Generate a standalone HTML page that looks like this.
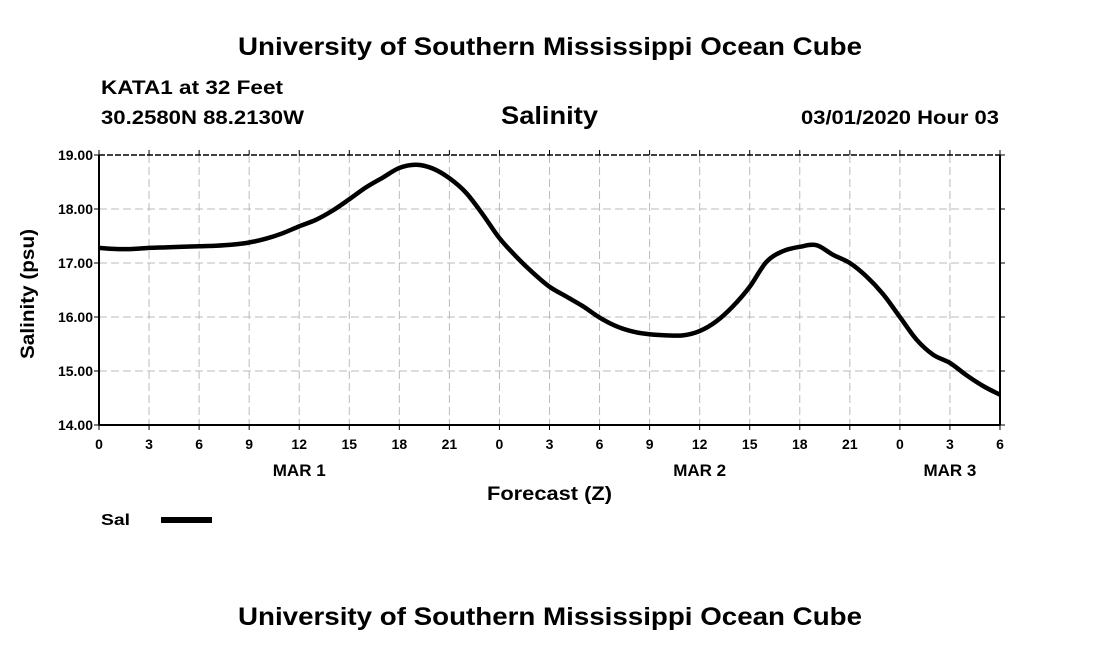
<!DOCTYPE html>
<html><head><meta charset="utf-8"><style>
body{margin:0;background:#fff;}
svg{display:block;font-family:"Liberation Sans",Arial,sans-serif;}
</style></head><body>
<svg id="chart" width="1100" height="650" viewBox="0 0 1100 650">
<text x="238" y="55" font-size="25" font-weight="bold" textLength="624" lengthAdjust="spacingAndGlyphs">University of Southern Mississippi Ocean Cube</text>
<text x="101" y="94" font-size="19" font-weight="bold" textLength="182" lengthAdjust="spacingAndGlyphs">KATA1 at 32 Feet</text>
<text x="101" y="124" font-size="19" font-weight="bold" textLength="203" lengthAdjust="spacingAndGlyphs">30.2580N 88.2130W</text>
<text x="501" y="124" font-size="25" font-weight="bold" textLength="97" lengthAdjust="spacingAndGlyphs">Salinity</text>
<text x="801" y="124" font-size="19" font-weight="bold" textLength="198" lengthAdjust="spacingAndGlyphs">03/01/2020 Hour 03</text>
<g id="grid"></g>
<g id="axes"></g>
<path id="line" fill="none" stroke="#000" stroke-width="4.5" stroke-linejoin="round"></path>
<text x="0" y="0" transform="translate(34,294) rotate(-90)" text-anchor="middle" font-size="19" font-weight="bold" textLength="130" lengthAdjust="spacingAndGlyphs">Salinity (psu)</text>
<text x="487" y="500" font-size="19" font-weight="bold" textLength="125" lengthAdjust="spacingAndGlyphs">Forecast (Z)</text>
<text x="101" y="525" font-size="16" font-weight="bold" textLength="29" lengthAdjust="spacingAndGlyphs">Sal</text>
<rect x="161" y="517" width="51" height="6" fill="#000"></rect>
<text x="238" y="625" font-size="25" font-weight="bold" textLength="624" lengthAdjust="spacingAndGlyphs">University of Southern Mississippi Ocean Cube</text>
</svg>
<script>
const hours = [0,1,2,3,4,5,6,7,8,9,10,11,12,13,14,15,16,17,18,19,20,21,22,23,24,25,26,27,28,29,30,31,32,33,34,35,36,37,38,39,40,41,42,43,44,45,46,47,48,49,50,51,52,53,54];
const salinity = [17.28,17.26,17.26,17.28,17.29,17.30,17.31,17.32,17.34,17.38,17.45,17.55,17.68,17.80,17.97,18.18,18.40,18.58,18.76,18.82,18.75,18.57,18.30,17.90,17.46,17.12,16.82,16.56,16.38,16.20,15.99,15.83,15.73,15.68,15.66,15.66,15.74,15.92,16.20,16.56,17.02,17.22,17.30,17.33,17.15,17.00,16.75,16.42,16.00,15.58,15.30,15.15,14.92,14.72,14.56];
const yTicks = [14,15,16,17,18,19];
const xTickLabels = ["0","3","6","9","12","15","18","21","0","3","6","9","12","15","18","21","0","3","6"];
const dayLabels = ["MAR 1","MAR 2","MAR 3"];
const dayHours = [12,36,51];

const X0=99,X1=1000,Y0=425,Y1=155,HMAX=54,VMIN=14,VMAX=19;
const xs=h=>X0+(X1-X0)*h/HMAX;
const ys=v=>Y0-(Y0-Y1)*(v-VMIN)/(VMAX-VMIN);
const NS="http://www.w3.org/2000/svg";
function mk(tag,attrs,parent){const e=document.createElementNS(NS,tag);for(const k in attrs)e.setAttribute(k,attrs[k]);parent.appendChild(e);return e;}
const gridG=document.getElementById('grid'),axesG=document.getElementById('axes');
yTicks.forEach(v=>{
  const y=ys(v);
  if(v>VMIN&&v<VMAX){const l=mk('line',{x1:X0,x2:X1,y1:y,y2:y,stroke:'#bbb','stroke-width':1,'stroke-dasharray':'8,4'},gridG);
  
  }
  const t=mk('line',{x1:X0-5,x2:X0,y1:y,y2:y,stroke:'#000','stroke-width':1},axesG);
  
  
  const t3=mk('line',{x1:X1,x2:X1+5,y1:y,y2:y,stroke:'#000','stroke-width':1},axesG);
  
  
  const tx=mk('text',{x:X0-6,y:y+5,'text-anchor':'end','font-size':14,'font-weight':'bold'},axesG);
  
  
  tx.textContent=v.toFixed(2);
});
xTickLabels.forEach((lab,i)=>{
  const x=xs(i*3);
  if(i>0&&i<xTickLabels.length-1){const l=mk('line',{x1:x,x2:x,y1:Y1,y2:Y0,stroke:'#bbb','stroke-width':1,'stroke-dasharray':'8,4'},gridG);
  
  }
  const t=mk('line',{x1:x,x2:x,y1:Y0,y2:Y0+5,stroke:'#000','stroke-width':1},axesG);
  
  
  const t2=mk('line',{x1:x,x2:x,y1:Y1-5,y2:Y1,stroke:'#000','stroke-width':1},axesG);
  
  
  const tx=mk('text',{x:x,y:Y0+24,'text-anchor':'middle','font-size':14,'font-weight':'bold'},axesG);
  
  
  tx.textContent=lab;
});
dayLabels.forEach((d,i)=>{
  const tx=mk('text',{x:xs(dayHours[i]),y:Y0+51,'text-anchor':'middle','font-size':17,'font-weight':'bold'},axesG);
  
  
  tx.textContent=d;
});
const topB=mk('line',{x1:X0,x2:X1,y1:Y1,y2:Y1,stroke:'#000','stroke-width':1.5,'stroke-dasharray':'6,2'},axesG);


const botB=mk('line',{x1:X0,x2:X1,y1:Y0,y2:Y0,stroke:'#000','stroke-width':2},axesG);


const lftB=mk('line',{x1:X0,x2:X0,y1:Y1,y2:Y0,stroke:'#000','stroke-width':2},axesG);


const rgtB=mk('line',{x1:X1,x2:X1,y1:Y1,y2:Y0,stroke:'#000','stroke-width':2},axesG);


const P=hours.map((h,i)=>[xs(h),ys(salinity[i])]);
let d='M'+P[0][0]+','+P[0][1];
for(let i=0;i<P.length-1;i++){
  const p0=P[Math.max(0,i-1)],p1=P[i],p2=P[i+1],p3=P[Math.min(P.length-1,i+2)];
  const c1=[p1[0]+(p2[0]-p0[0])/6,p1[1]+(p2[1]-p0[1])/6];
  const c2=[p2[0]-(p3[0]-p1[0])/6,p2[1]-(p3[1]-p1[1])/6];
  d+=` C${c1[0]},${c1[1]} ${c2[0]},${c2[1]} ${p2[0]},${p2[1]}`;
}
document.getElementById('line').setAttribute('d',d);
</script>
</body></html>
